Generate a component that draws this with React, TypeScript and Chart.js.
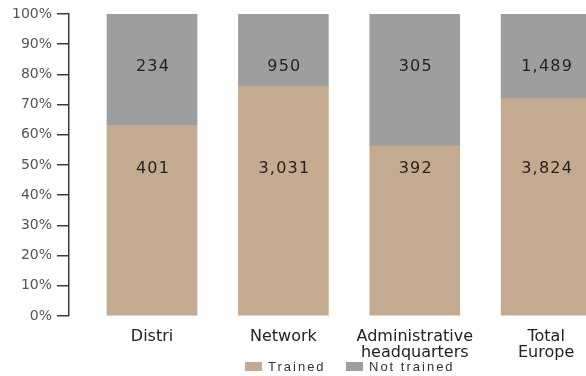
import React, { useEffect, useRef } from "react";
import { Chart, registerables } from "chart.js";

Chart.register(...registerables);

// ---- data ----
const categories: string[][] = [["Distri"], ["Network"], ["Administrative", "headquarters"], ["Total", "Europe"]];
const seriesNames = ["Trained", "Not trained"];
const trained = [401, 3031, 392, 3824];
const notTrained = [234, 950, 305, 1489];
const yTickValues = [0, 10, 20, 30, 40, 50, 60, 70, 80, 90, 100];

// ---- style ----
const colors = ["#c4aa8e", "#9d9ea0"];
const labelLevels = [47.4, 81.1]; // y-level (in %) where each series' count label is drawn

const trainedPct = trained.map((t, i) => (t / (t + notTrained[i])) * 100);
const notTrainedPct = notTrained.map((n, i) => (n / (trained[i] + n)) * 100);
const rawValues = [trained, notTrained];

const labelsPlugin = {
  id: "customLabels",
  afterDatasetsDraw(chart: any) {
    const ctx = chart.ctx;
    const yScale = chart.scales.y;
    ctx.save();
    ctx.font = "16px 'DejaVu Sans'";
    (ctx as any).letterSpacing = "1.2px";
    ctx.fillStyle = "#231f20";
    ctx.textAlign = "center";
    ctx.textBaseline = "alphabetic";
    chart.data.datasets.forEach((ds: any, i: number) => {
      const meta = chart.getDatasetMeta(i);
      meta.data.forEach((el: any, j: number) => {
        const y = yScale.getPixelForValue(labelLevels[i]);
        ctx.fillText(rawValues[i][j].toLocaleString("en-US"), el.x + 1, y);
      });
    });
    ctx.restore();
  },
  afterDraw(chart: any) {
    // legend
    const ctx = chart.ctx;
    ctx.save();
    ctx.font = "13px 'Liberation Sans'";
    (ctx as any).letterSpacing = "2px";
    ctx.textBaseline = "alphabetic";
    ctx.textAlign = "left";
    const starts = [245, 346];
    const baseY = 371;
    seriesNames.forEach((name, i) => {
      ctx.fillStyle = colors[i];
      ctx.fillRect(starts[i], baseY - 9, 17, 9);
      ctx.fillStyle = "#333";
      ctx.fillText(name, starts[i] + 23, baseY);
    });
    ctx.restore();
  },
};

export default function App() {
  const ref = useRef<HTMLCanvasElement>(null);
  useEffect(() => {
    if (!ref.current) return;
    const chart = new Chart(ref.current, {
      type: "bar",
      data: {
        datasets: [
          {
            label: seriesNames[0],
            data: trainedPct.map((v, i) => ({ x: i, y: v })),
            backgroundColor: colors[0],
            borderWidth: 0,
            barThickness: 90,
          },
          {
            label: seriesNames[1],
            data: notTrainedPct.map((v, i) => ({ x: i, y: v })),
            backgroundColor: colors[1],
            borderWidth: 0,
            barThickness: 90,
          },
        ],
      },
      options: {
        animation: false,
        responsive: false,
        devicePixelRatio: 1,
        layout: { padding: { top: 14, left: 0, right: 0, bottom: 0 } },
        plugins: { legend: { display: false }, tooltip: { enabled: false } },
        scales: {
          x: {
            type: "linear",
            stacked: true,
            offset: false,
            min: -0.632,
            max: 3.41,
            grid: { display: false },
            border: { display: false },
            afterBuildTicks: (s: any) => {
              s.ticks = categories.map((_, i) => ({ value: i }));
            },
            afterFit: (s: any) => {
              s.height = 60;
            },
            ticks: {
              autoSkip: false,
              maxRotation: 0,
              padding: 5,
              color: "#222",
              font: { family: "'DejaVu Sans'", size: 16, lineHeight: 1 },
              callback: (v: any) => categories[v] ?? "",
            },
          },
          y: {
            stacked: true,
            min: 0,
            max: 100,
            afterBuildTicks: (s: any) => {
              s.ticks = yTickValues.map((v) => ({ value: v }));
            },
            afterFit: (s: any) => {
              s.width = 69;
            },
            grid: {
              drawOnChartArea: false,
              drawTicks: true,
              tickLength: 12,
              color: "#3a3a3a",
              lineWidth: 1.5,
            },
            border: { display: true, color: "#3a3a3a", width: 1.5 },
            ticks: {
              padding: 5,
              color: "#555",
              font: { family: "'DejaVu Sans'", size: 14 },
              callback: (v: any) => `${v}%`,
            },
          },
        },
      },
      plugins: [labelsPlugin],
    });
    return () => chart.destroy();
  }, []);
  return (
    <div style={{ position: "absolute", left: 0, top: 0, width: 586, height: 376, overflow: "hidden", background: "#fff" }}>
      <canvas ref={ref} width={600} height={376} style={{ display: "block" }} />
    </div>
  );
}
